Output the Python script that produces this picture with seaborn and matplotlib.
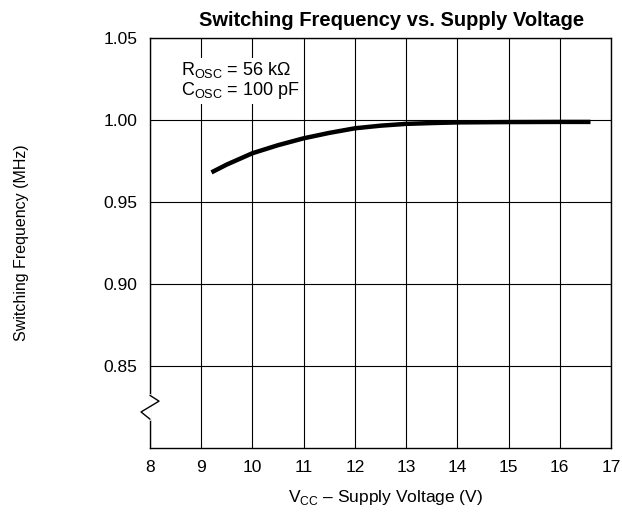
import seaborn as sns
import matplotlib.pyplot as plt
import pandas as pd

# values
voltage = [9.2, 9.5, 10, 10.5, 11, 11.5, 12, 12.5, 13, 13.5, 14, 15, 16, 16.6]
freq = [0.968, 0.9728, 0.9797, 0.9846, 0.9888, 0.9921, 0.9949, 0.9965,
        0.9976, 0.9981, 0.9985, 0.9987, 0.9988, 0.9988]
x_ticks = [8, 9, 10, 11, 12, 13, 14, 15, 16, 17]
y_ticks = [0.85, 0.90, 0.95, 1.00, 1.05]

data = pd.DataFrame({'Vcc': voltage, 'Freq': freq})

sns.set_style('white')
plt.rcParams['font.family'] = ['Liberation Sans', 'DejaVu Sans']
plt.rcParams['mathtext.fontset'] = 'custom'
plt.rcParams['mathtext.rm'] = 'Liberation Sans'
plt.rcParams['text.color'] = 'black'
plt.rcParams['axes.labelcolor'] = 'black'
plt.rcParams['xtick.color'] = 'black'
plt.rcParams['ytick.color'] = 'black'

fig = plt.figure(figsize=(6.22, 5.15), dpi=100)
ax = fig.add_axes([0.2412, 0.1307, 0.7411, 0.7955])

sns.lineplot(x='Vcc', y='Freq', data=data, ax=ax, color='black', linewidth=3.2,
             solid_capstyle='butt', zorder=3)

ax.set_xlim(8, 17)
ax.set_ylim(0.80, 1.05)
ax.set_xticks(x_ticks)
ax.set_yticks(y_ticks)
ax.set_yticklabels([f'{v:.2f}' for v in y_ticks])
ax.grid(True, color='black', linewidth=0.8)
ax.tick_params(length=0, labelsize=12.5, pad=9)
for s in ax.spines.values():
    s.set_color('black')
    s.set_linewidth(1)

ax.set_title('Switching Frequency vs. Supply Voltage', fontsize=14.5,
             fontweight='bold', x=0.525, pad=9)
ax.set_xlabel(r'V$_{\mathrm{CC}}$ – Supply Voltage (V)', fontsize=12.5, labelpad=9)
ax.xaxis.label.set_x(0.51)
ax.set_ylabel('Switching Frequency (MHz)', fontsize=11.5)
ax.yaxis.set_label_coords(-0.278, 0.5)
ax.yaxis.label.set_va('center')

ax.text(8.6, 1.0365, 'R$_{\\mathrm{OSC}}$ = 56 kΩ\nC$_{\\mathrm{OSC}}$ = 100 pF',
        fontsize=13, va='top', ha='left', linespacing=1.0,
        bbox=dict(facecolor='white', edgecolor='none', pad=2), zorder=4)

# axis break mark on the left spine
tr = ax.get_yaxis_transform()
ax.plot([0, 0], [0.8174, 0.8319], transform=tr, color='white', linewidth=2,
        clip_on=False, zorder=5)
ax.plot([0, 0.0195, -0.0195, 0], [0.8319, 0.8284, 0.8218, 0.8174], transform=tr,
        color='black', linewidth=1, clip_on=False, zorder=6)

plt.savefig('out.png', dpi=100)
